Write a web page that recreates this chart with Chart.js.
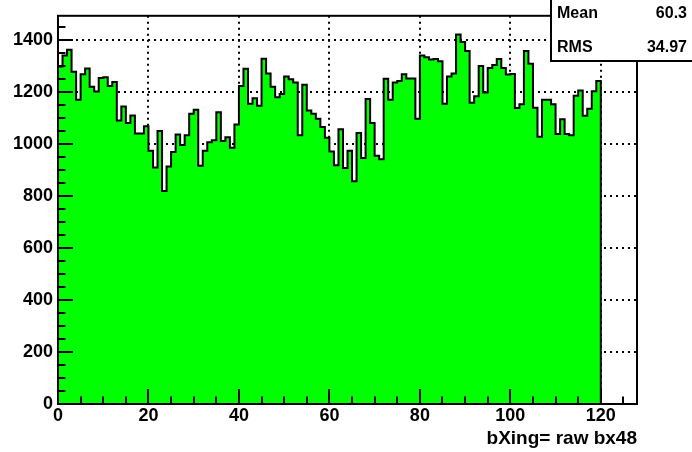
<!DOCTYPE html>
<html>
<head>
<meta charset="utf-8">
<script src="https://cdn.jsdelivr.net/npm/chart.js@4.4.1/dist/chart.umd.min.js"></script>
<style>
  html, body { margin: 0; padding: 0; background: #fff; }
  #wrap { width: 692px; height: 452px; position: relative; }
</style>
</head>
<body>
<div id="wrap"><canvas id="chart" width="692" height="452"></canvas></div>
<script>
  const binLow = 0;
  const binWidth = 1;
  const binValues = [
    1300, 1342, 1364, 1280, 1172, 1270, 1292, 1222, 1203, 1255,
    1258, 1225, 1240, 1092, 1146, 1082, 1111, 1042, 1042, 1070,
    975, 911, 1051, 820, 915, 970, 1038, 997, 1035, 1118,
    1133, 918, 975, 1008, 1016, 1124, 1013, 1027, 987, 1076,
    1225, 1291, 1156, 1177, 1149, 1330, 1273, 1222, 1181, 1194,
    1261, 1251, 1238, 1035, 1229, 1130, 1118, 1099, 1067, 1025,
    972, 919, 1058, 909, 975, 858, 1044, 947, 1175, 1082,
    956, 943, 1253, 1172, 1238, 1244, 1270, 1254, 1254, 1099,
    1342, 1335, 1327, 1329, 1320, 1156, 1261, 1273, 1423, 1394,
    1359, 1160, 1185, 1302, 1200, 1294, 1306, 1329, 1294, 1269,
    1271, 1140, 1154, 1359, 1310, 1141, 1029, 1172, 1172, 1154,
    1040, 1097, 1040, 1035, 1187, 1207, 1110, 1137, 1204, 1244
  ];

  const xRange = [0, 128];
  const yRange = [0, 1495];
  const xTickValues = [0, 20, 40, 60, 80, 100, 120];
  const yTickValues = [0, 200, 400, 600, 800, 1000, 1200, 1400];
  const xMinorStep = 5;
  const yMinorStep = 50;
  const xTitle = "bXing= raw bx48";
  const statLabels = ["Mean", "RMS"];
  const statValues = ["60.3", "34.97"];

  const FONT = '"Liberation Sans", Arial, Helvetica, sans-serif';

  function histogramPoints() {
    const pts = binValues.map((v, i) => ({ x: binLow + i * binWidth, y: v }));
    const end = binLow + binValues.length * binWidth;
    pts.push({ x: end, y: binValues[binValues.length - 1] });
    pts.push({ x: end, y: 0 });
    return pts;
  }

  const frameAndStats = {
    id: "frameAndStats",
    afterDatasetsDraw(chart) {
      const { ctx, chartArea: a, scales } = chart;
      const x = scales.x;
      const y = scales.y;
      ctx.save();
      ctx.strokeStyle = "#000";
      ctx.lineWidth = 2;

      // ticks point into the frame, ROOT style
      ctx.beginPath();
      for (let v = xRange[0]; v <= xRange[1]; v += xMinorStep) {
        const px = Math.round(x.getPixelForValue(v));
        const len = v % 20 === 0 ? 15 : 7.5;
        ctx.moveTo(px, a.bottom);
        ctx.lineTo(px, a.bottom - len);
      }
      for (let v = yRange[0]; v <= yRange[1]; v += yMinorStep) {
        const py = Math.round(y.getPixelForValue(v));
        const len = v % 200 === 0 ? 15 : 7.5;
        ctx.moveTo(a.left, py);
        ctx.lineTo(a.left + len, py);
      }
      ctx.stroke();

      ctx.strokeRect(a.left, a.top, a.right - a.left, a.bottom - a.top);

      // axis title
      ctx.fillStyle = "#000";
      ctx.font = "bold 19px " + FONT;
      ctx.textAlign = "right";
      ctx.textBaseline = "alphabetic";
      ctx.fillText(xTitle, a.right, 444);

      // stats box
      ctx.fillStyle = "#fff";
      ctx.fillRect(551, -2, 150, 63);
      ctx.strokeRect(551, -2, 150, 63);
      ctx.fillStyle = "#000";
      ctx.font = "bold 16px " + FONT;
      statLabels.forEach((label, i) => {
        const base = 18 + i * 33.5;
        ctx.textAlign = "left";
        ctx.fillText(label, 557, base);
        ctx.textAlign = "right";
        ctx.fillText(statValues[i], 687, base);
      });
      ctx.restore();
    },
  };

  function init() {
    const tickFont = { family: FONT, size: 18, weight: "bold" };
    new Chart(document.getElementById("chart"), {
      type: "line",
      data: {
        datasets: [{
          data: histogramPoints(),
          stepped: "before",
          borderColor: "#000",
          borderWidth: 2,
          backgroundColor: "#00ff00",
          fill: "origin",
          pointRadius: 0,
          tension: 0,
        }],
      },
      options: {
        responsive: false,
        animation: false,
        devicePixelRatio: 1,
        layout: { padding: { top: 8, right: 55, left: 0, bottom: 0 } },
        plugins: { legend: { display: false }, tooltip: { enabled: false } },
        scales: {
          x: {
            type: "linear",
            min: xRange[0],
            max: xRange[1],
            afterBuildTicks: (s) => { s.ticks = xTickValues.map((v) => ({ value: v })); },
            afterFit: (s) => { s.height = 48; },
            ticks: { color: "#000", font: tickFont, padding: 1, maxRotation: 0, callback: (v) => String(v) },
            grid: { color: "#000", lineWidth: 2, drawTicks: false },
            border: { display: false, dash: [2, 4] },
          },
          y: {
            type: "linear",
            min: yRange[0],
            max: yRange[1],
            afterBuildTicks: (s) => { s.ticks = yTickValues.map((v) => ({ value: v })); },
            afterFit: (s) => { s.width = 58; },
            ticks: { color: "#000", font: tickFont, padding: 5, callback: (v) => String(v) },
            grid: { color: "#000", lineWidth: 2, drawTicks: false },
            border: { display: false, dash: [2, 4] },
          },
        },
      },
      plugins: [frameAndStats],
    });
  }

  document.addEventListener("DOMContentLoaded", init);
</script>
</body>
</html>
